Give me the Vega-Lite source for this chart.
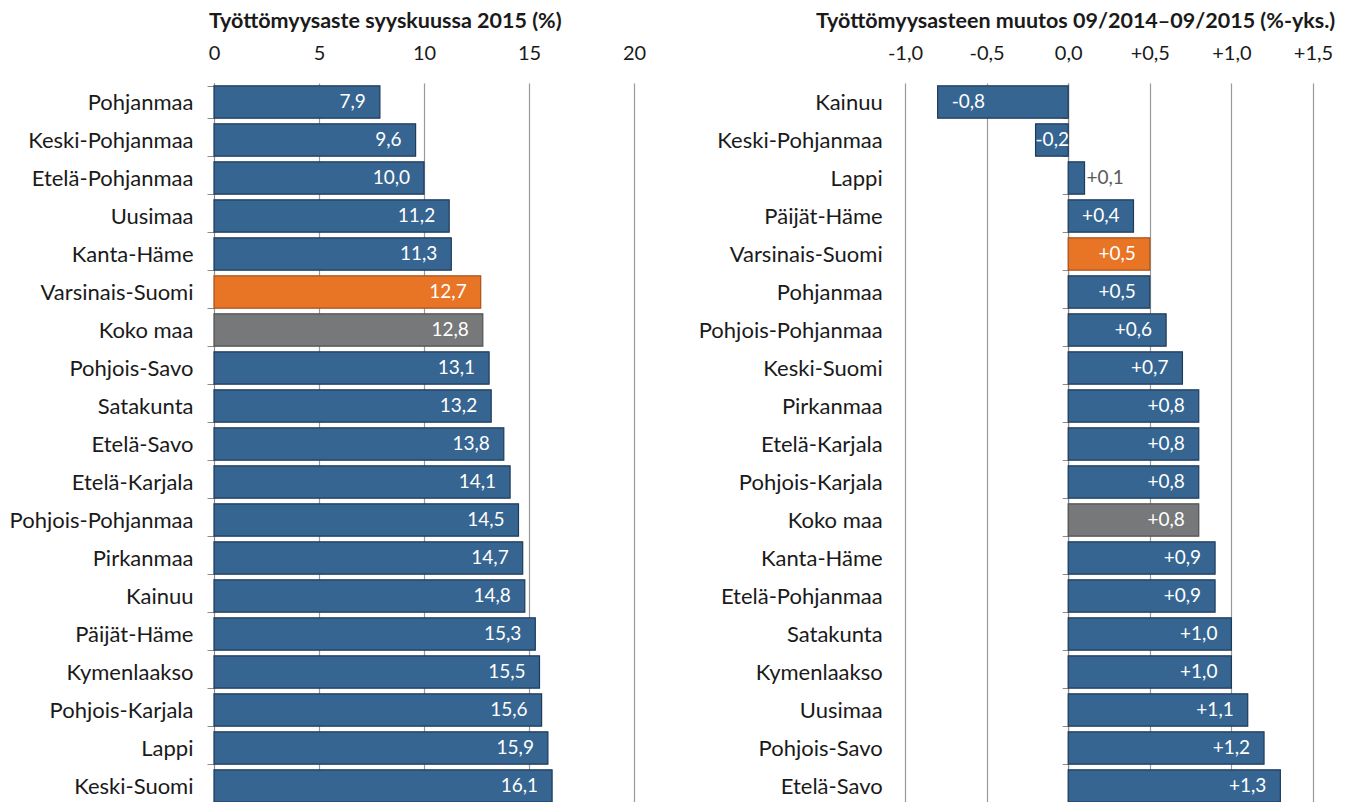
{
  "$schema": "https://vega.github.io/schema/vega-lite/v6.json",
  "padding": {"left": 0, "top": 10, "right": 0, "bottom": 0},
  "background": "white",
  "spacing": 52,
  "config": {
    "font": "Lato",
    "view": {"stroke": null},
    "title": {"font": "Lato", "fontSize": 21.5, "fontWeight": "bold", "color": "#1a1a1a", "anchor": "start", "frame": "group", "offset": 11},
    "axis": {"labelFont": "Lato", "labelColor": "#1a1a1a", "labelLimit": 400}
  },
  "datasets": {
    "taso": [
      {"alue": "Pohjanmaa", "arvo": 7.9, "ryhma": "maakunta"},
      {"alue": "Keski-Pohjanmaa", "arvo": 9.6, "ryhma": "maakunta"},
      {"alue": "Etelä-Pohjanmaa", "arvo": 10.0, "ryhma": "maakunta"},
      {"alue": "Uusimaa", "arvo": 11.2, "ryhma": "maakunta"},
      {"alue": "Kanta-Häme", "arvo": 11.3, "ryhma": "maakunta"},
      {"alue": "Varsinais-Suomi", "arvo": 12.7, "ryhma": "korostus"},
      {"alue": "Koko maa", "arvo": 12.8, "ryhma": "koko maa"},
      {"alue": "Pohjois-Savo", "arvo": 13.1, "ryhma": "maakunta"},
      {"alue": "Satakunta", "arvo": 13.2, "ryhma": "maakunta"},
      {"alue": "Etelä-Savo", "arvo": 13.8, "ryhma": "maakunta"},
      {"alue": "Etelä-Karjala", "arvo": 14.1, "ryhma": "maakunta"},
      {"alue": "Pohjois-Pohjanmaa", "arvo": 14.5, "ryhma": "maakunta"},
      {"alue": "Pirkanmaa", "arvo": 14.7, "ryhma": "maakunta"},
      {"alue": "Kainuu", "arvo": 14.8, "ryhma": "maakunta"},
      {"alue": "Päijät-Häme", "arvo": 15.3, "ryhma": "maakunta"},
      {"alue": "Kymenlaakso", "arvo": 15.5, "ryhma": "maakunta"},
      {"alue": "Pohjois-Karjala", "arvo": 15.6, "ryhma": "maakunta"},
      {"alue": "Lappi", "arvo": 15.9, "ryhma": "maakunta"},
      {"alue": "Keski-Suomi", "arvo": 16.1, "ryhma": "maakunta"}
    ],
    "muutos": [
      {"alue": "Kainuu", "arvo": -0.8, "ryhma": "maakunta"},
      {"alue": "Keski-Pohjanmaa", "arvo": -0.2, "ryhma": "maakunta"},
      {"alue": "Lappi", "arvo": 0.1, "ryhma": "maakunta"},
      {"alue": "Päijät-Häme", "arvo": 0.4, "ryhma": "maakunta"},
      {"alue": "Varsinais-Suomi", "arvo": 0.5, "ryhma": "korostus"},
      {"alue": "Pohjanmaa", "arvo": 0.5, "ryhma": "maakunta"},
      {"alue": "Pohjois-Pohjanmaa", "arvo": 0.6, "ryhma": "maakunta"},
      {"alue": "Keski-Suomi", "arvo": 0.7, "ryhma": "maakunta"},
      {"alue": "Pirkanmaa", "arvo": 0.8, "ryhma": "maakunta"},
      {"alue": "Etelä-Karjala", "arvo": 0.8, "ryhma": "maakunta"},
      {"alue": "Pohjois-Karjala", "arvo": 0.8, "ryhma": "maakunta"},
      {"alue": "Koko maa", "arvo": 0.8, "ryhma": "koko maa"},
      {"alue": "Kanta-Häme", "arvo": 0.9, "ryhma": "maakunta"},
      {"alue": "Etelä-Pohjanmaa", "arvo": 0.9, "ryhma": "maakunta"},
      {"alue": "Satakunta", "arvo": 1.0, "ryhma": "maakunta"},
      {"alue": "Kymenlaakso", "arvo": 1.0, "ryhma": "maakunta"},
      {"alue": "Uusimaa", "arvo": 1.1, "ryhma": "maakunta"},
      {"alue": "Pohjois-Savo", "arvo": 1.2, "ryhma": "maakunta"},
      {"alue": "Etelä-Savo", "arvo": 1.3, "ryhma": "maakunta"}
    ]
  },
  "hconcat": [
    {
      "width": 420,
      "height": 722,
      "data": {"name": "taso"},
      "title": {"text": "Työttömyysaste syyskuussa 2015 (%)", "dx": -5},
      "transform": [
        {"calculate": "replace(format(datum.arvo, '.1f'), '.', ',')", "as": "nimio"}
      ],
      "encoding": {
        "y": {
          "field": "alue", "type": "nominal", "sort": null,
          "scale": {"paddingInner": 0.15, "paddingOuter": 0.075},
          "axis": {
            "title": null, "orient": "left", "tickBand": "extent",
            "domainColor": "#8c8c8c", "tickColor": "#8c8c8c", "tickSize": 7,
            "labelFontSize": 22, "labelPadding": 14,
            "minExtent": 214, "maxExtent": 214
          }
        }
      },
      "layer": [
        {
          "mark": {"type": "bar", "strokeWidth": 1.2},
          "encoding": {
            "x": {
              "field": "arvo", "type": "quantitative",
              "scale": {"domain": [0, 20], "nice": false},
              "axis": {
                "orient": "top", "title": null, "values": [0, 5, 10, 15, 20],
                "grid": true, "gridColor": "#999999", "gridWidth": 1.2,
                "domain": false, "ticks": false,
                "labelFontSize": 20, "labelPadding": 20, "labelFlush": false
              }
            },
            "color": {
              "field": "ryhma", "type": "nominal", "legend": null,
              "scale": {"domain": ["maakunta", "korostus", "koko maa"], "range": ["#366592", "#e87426", "#76787a"]}
            },
            "stroke": {
              "field": "ryhma", "type": "nominal", "legend": null,
              "scale": {"domain": ["maakunta", "korostus", "koko maa"], "range": ["#1f3b5a", "#a8521a", "#4f5153"]}
            }
          }
        },
        {
          "mark": {"type": "text", "align": "right", "baseline": "middle", "dx": -14, "fontSize": 19, "color": "white", "font": "Lato"},
          "encoding": {
            "x": {"field": "arvo", "type": "quantitative"},
            "text": {"field": "nimio", "type": "nominal"}
          }
        }
      ]
    },
    {
      "width": 408,
      "height": 722,
      "data": {"name": "muutos"},
      "title": {"text": "Työttömyysasteen muutos 09/2014–09/2015 (%-yks.)", "dx": -89},
      "transform": [
        {"calculate": "(datum.arvo > 0 ? '+' : (datum.arvo < 0 ? '-' : '')) + replace(format(abs(datum.arvo), '.1f'), '.', ',')", "as": "nimio"}
      ],
      "encoding": {
        "y": {
          "field": "alue", "type": "nominal", "sort": null,
          "scale": {"paddingInner": 0.15, "paddingOuter": 0.075},
          "axis": {
            "title": null, "orient": "left", "tickBand": "extent", "offset": -163.2,
            "domainColor": "#8c8c8c", "tickColor": "#8c8c8c", "tickSize": 6,
            "labelFontSize": 22, "labelPadding": 180
          }
        }
      },
      "layer": [
        {
          "mark": {"type": "bar", "strokeWidth": 1.2},
          "encoding": {
            "x": {
              "field": "arvo", "type": "quantitative",
              "scale": {"domain": [-1, 1.5], "nice": false, "zero": false},
              "axis": {
                "orient": "top", "title": null, "values": [-1, -0.5, 0, 0.5, 1, 1.5],
                "labelExpr": "(datum.value > 0 ? '+' : (datum.value < 0 ? '-' : '')) + replace(format(abs(datum.value), '.1f'), '.', ',')",
                "grid": true, "gridColor": "#999999", "gridWidth": 1.2,
                "domain": false, "ticks": false,
                "labelFontSize": 20, "labelPadding": 20, "labelFlush": false
              }
            },
            "color": {
              "field": "ryhma", "type": "nominal", "legend": null,
              "scale": {"domain": ["maakunta", "korostus", "koko maa"], "range": ["#366592", "#e87426", "#76787a"]}
            },
            "stroke": {
              "field": "ryhma", "type": "nominal", "legend": null,
              "scale": {"domain": ["maakunta", "korostus", "koko maa"], "range": ["#1f3b5a", "#a8521a", "#4f5153"]}
            }
          }
        },
        {
          "transform": [{"filter": "datum.arvo >= 0.2"}],
          "mark": {"type": "text", "align": "right", "baseline": "middle", "dx": -14, "fontSize": 19, "color": "white", "font": "Lato"},
          "encoding": {
            "x": {"field": "arvo", "type": "quantitative"},
            "text": {"field": "nimio", "type": "nominal"}
          }
        },
        {
          "transform": [{"filter": "datum.arvo < 0 && datum.arvo > -0.5"}],
          "mark": {"type": "text", "align": "left", "baseline": "middle", "dx": 0, "fontSize": 19, "color": "white", "font": "Lato"},
          "encoding": {
            "x": {"field": "arvo", "type": "quantitative"},
            "text": {"field": "nimio", "type": "nominal"}
          }
        },
        {
          "transform": [{"filter": "datum.arvo <= -0.5"}],
          "mark": {"type": "text", "align": "left", "baseline": "middle", "dx": 14, "fontSize": 19, "color": "white", "font": "Lato"},
          "encoding": {
            "x": {"field": "arvo", "type": "quantitative"},
            "text": {"field": "nimio", "type": "nominal"}
          }
        },
        {
          "transform": [{"filter": "datum.arvo >= 0 && datum.arvo < 0.2"}],
          "mark": {"type": "text", "align": "left", "baseline": "middle", "dx": 2, "fontSize": 19, "color": "#5a5a5a", "font": "Lato"},
          "encoding": {
            "x": {"field": "arvo", "type": "quantitative"},
            "text": {"field": "nimio", "type": "nominal"}
          }
        }
      ]
    }
  ]
}
